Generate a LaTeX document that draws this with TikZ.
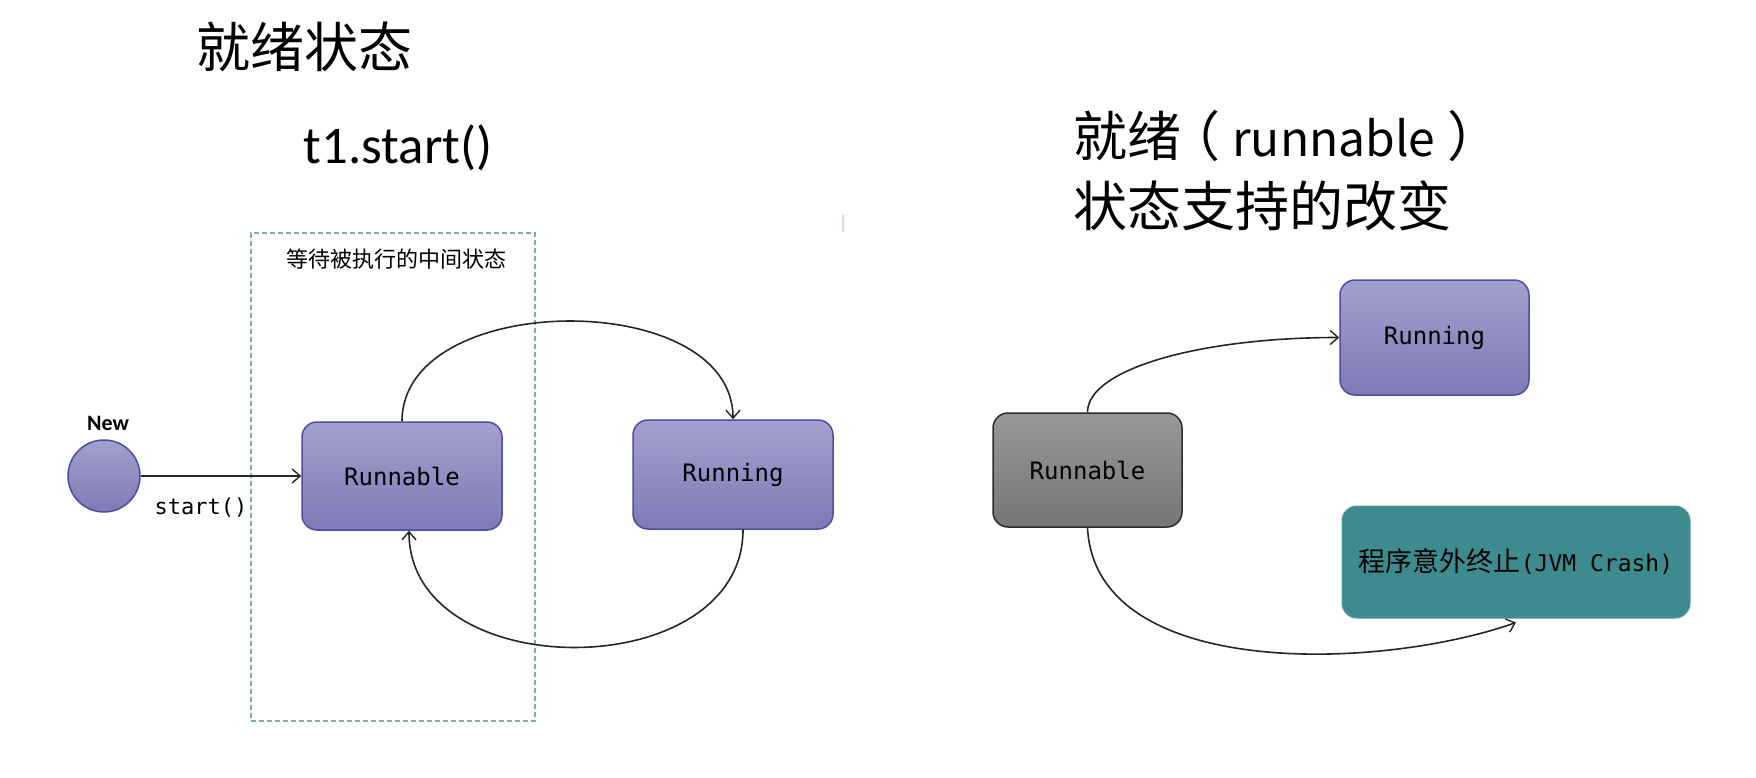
\documentclass[tikz,border=0pt]{standalone}
\usepackage{fontspec}
\setmainfont{Carlito}
\newfontfamily\cjk{Noto Sans CJK SC}
\newfontfamily\mono{DejaVu Sans Mono}
\newfontfamily\carlito{Carlito}
\usetikzlibrary{arrows.meta}
\definecolor{lavt}{RGB}{163,160,206}
\definecolor{lavbot}{RGB}{126,122,182}
\definecolor{lavb}{RGB}{78,74,168}
\definecolor{grayt}{RGB}{152,152,152}
\definecolor{graybot}{RGB}{118,118,118}
\definecolor{grayb}{RGB}{45,45,45}
\definecolor{tealbox}{RGB}{62,139,143}
\definecolor{framec}{RGB}{130,172,172}
\definecolor{faintc}{RGB}{215,212,240}
\tikzset{
  lavbox/.style={rounded corners=15pt, draw=lavb, line width=1.5pt, top color=lavt, bottom color=lavbot,
    minimum width=200pt, minimum height=108pt, inner sep=0pt, font=\mono\fontsize{24}{28}\selectfont},
  graybox/.style={rounded corners=15pt, draw=grayb, line width=1.5pt, top color=grayt, bottom color=graybot,
    minimum width=189pt, minimum height=114pt, inner sep=0pt, font=\mono\fontsize{24}{28}\selectfont},
  crashbox/.style={rounded corners=15pt, fill=tealbox, draw=tealbox!90!white, line width=1pt,
    minimum width=348pt, minimum height=112pt, inner sep=0pt},
  arr/.style={-{Straight Barb[length=8pt,width=14pt,line width=1.4pt]}, line width=1.6pt, draw=black!85},
  framebox/.style={draw=framec, line width=1.3pt, dash pattern=on 5pt off 3pt, minimum width=284pt, minimum height=488pt, inner sep=0pt},
  title/.style={font=\cjk\fontsize{54}{70}\selectfont, inner sep=0pt, anchor=west, align=left},
}
\begin{document}
\begin{tikzpicture}[x=1pt,y=-1pt]
\useasboundingbox[fill=white] (0,0) rectangle (1756,778);
% titles
\node[title] (t1) at (196,47) {就绪状态};
\node[font=\carlito\fontsize{53}{60}\selectfont, inner sep=0pt] (t2) at (398,148) {t1.start()};
\node[title] (t3) at (1073,171) {就绪\kern-15pt（ {\fontsize{48}{70}\selectfont runnable} ）\\状态支持的改变};
% left diagram
\node[framebox] (frame) at (393,477) {};
\node[font=\cjk\fontsize{22}{24}\selectfont, inner sep=0pt] (flabel) at (396,259) {等待被执行的中间状态};
\node[circle, draw=lavb, line width=1.5pt, top color=lavt, bottom color=lavbot, minimum size=72pt, inner sep=0pt] (new) at (104,476) {};
\node[font=\carlito\bfseries\fontsize{22}{24}\selectfont, inner sep=0pt] (newl) at (108,423) {New};
\node[lavbox] (r1) at (402,476) {Runnable};
\node[lavbox, minimum height=109pt] (g1) at (733,474.5) {Running};
\draw[arr] (new) -- (r1);
\node[font=\mono\fontsize{22}{26}\selectfont, inner sep=0pt] (st) at (201,508) {start()};
\draw[arr] (r1.north) .. controls +(0,-132) and +(0,-132) .. (g1.north);
\draw[arr] ([xshift=10pt]g1.south) .. controls +(0,156) and +(0,156) .. ([xshift=7pt]r1.south);
\draw[faintc, line width=1.5pt] (843,215) -- (843,232);
% right diagram
\node[graybox] (r2) at (1087.5,470) {Runnable};
\node[lavbox, minimum width=189pt, minimum height=115pt] (r3) at (1434.5,337.5) {Running};
\node[crashbox] (cr) at (1516,562) {{\cjk\fontsize{27}{30}\selectfont 程序意外终止}{\mono\fontsize{23}{28}\selectfont (JVM Crash)}};
\draw[arr] (r2.north) .. controls +(0,-43) and +(-140,0) .. (r3.west);
\draw[arr] (r2.south) .. controls +(8,153) and +(-136,48) .. ([yshift=-4pt]cr.south);
\end{tikzpicture}
\end{document}
